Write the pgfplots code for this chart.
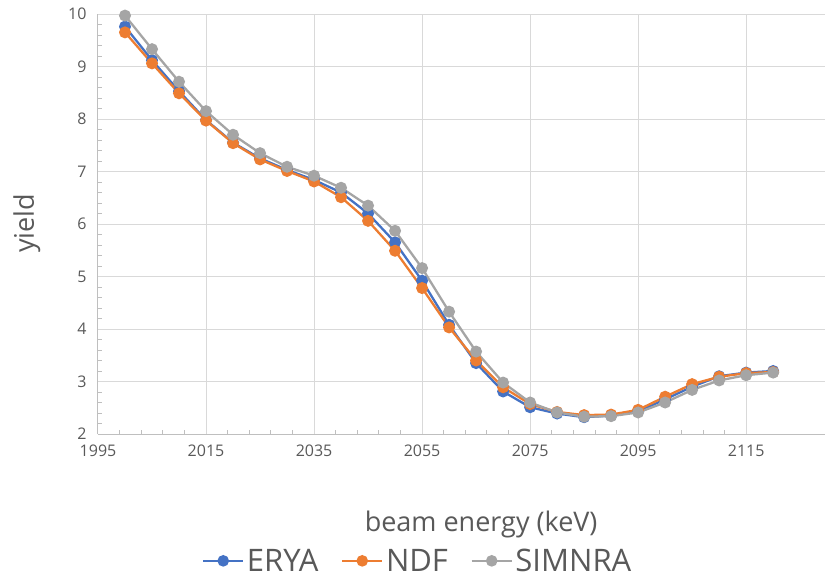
\documentclass[border=0pt]{standalone}
\usepackage{fontspec}
\setmainfont{Open Sans}
\usepackage{pgfplots}
\pgfplotsset{compat=1.18}
\definecolor{erya}{HTML}{4472C4}
\definecolor{ndf}{HTML}{ED7D31}
\definecolor{simnra}{HTML}{A5A5A5}
\definecolor{gridc}{HTML}{D9D9D9}
\definecolor{axisc}{HTML}{BFBFBF}
\definecolor{txt}{HTML}{595959}

\begin{document}
\begin{tikzpicture}
\begin{axis}[
  scale only axis, width=727bp, height=420bp,
  xmin=1995, xmax=2129.6, ymin=2, ymax=10,
  xtick={1995,2015,...,2115}, ytick={2,3,...,10},
  minor x tick num=4, minor y tick num=4,
  axis x line*=bottom, axis y line*=left,
  axis line style={axisc, line width=1bp, -},
  major tick length=0pt, minor tick length=4bp, tick align=inside,
  minor tick style={axisc, line width=0.8bp},
  ymajorgrids, xmajorgrids,
  major grid style={gridc, line width=1bp},
  /pgf/number format/assume math mode=true,
  /pgf/number format/1000 sep={},
  ticklabel style={font=\fontsize{16bp}{18bp}\selectfont, text=txt},
  xticklabel style={yshift=-7bp},
  yticklabel style={xshift=-8bp},
  xlabel={beam energy (keV)}, ylabel={yield},
  xlabel style={at={(axis description cs:0.527,-0.233)}, anchor=base,
    font=\fontsize{27bp}{30bp}\selectfont, text=txt},
  ylabel style={at={(axis description cs:-0.098,0.502)}, anchor=center,
    font=\fontsize{27bp}{30bp}\selectfont, text=txt},
  clip=false,
  every axis plot/.append style={line width=2.3bp, mark=*, mark size=4.8bp},
  legend columns=-1,
  legend style={at={(axis description cs:0.44,-0.302)}, anchor=center,
    draw=none, fill=none, font=\fontsize{31bp}{33bp}\selectfont, text=txt,
    inner sep=0pt, nodes={inner sep=2.5bp},
    /tikz/every even column/.append style={column sep=20bp}},
  legend image code/.code={
    \draw[mark repeat=2, mark phase=2, mark size=4.5bp, line width=2.5bp]
      plot coordinates {(0bp,0bp) (20bp,0bp) (40bp,0bp)};},
]
\addplot[erya, mark options={fill=erya}] coordinates {
(2000,9.76) (2005,9.12) (2010,8.53) (2015,7.98) (2020,7.55) (2025,7.25)
(2030,7.03) (2035,6.84) (2040,6.60) (2045,6.20) (2050,5.65) (2055,4.92)
(2060,4.08) (2065,3.35) (2070,2.81) (2075,2.51) (2080,2.39) (2085,2.32)
(2090,2.35) (2095,2.43) (2100,2.66) (2105,2.90) (2110,3.10) (2115,3.17)
(2120,3.20)};
\addplot[ndf, mark options={fill=ndf}] coordinates {
(2000,9.65) (2005,9.06) (2010,8.49) (2015,7.97) (2020,7.54) (2025,7.23)
(2030,7.01) (2035,6.81) (2040,6.51) (2045,6.06) (2050,5.49) (2055,4.78)
(2060,4.03) (2065,3.40) (2070,2.89) (2075,2.57) (2080,2.42) (2085,2.36)
(2090,2.37) (2095,2.46) (2100,2.71) (2105,2.95) (2110,3.09) (2115,3.16)
(2120,3.18)};
\addplot[simnra, mark options={fill=simnra}] coordinates {
(2000,9.97) (2005,9.33) (2010,8.71) (2015,8.15) (2020,7.70) (2025,7.35)
(2030,7.09) (2035,6.92) (2040,6.69) (2045,6.35) (2050,5.87) (2055,5.16)
(2060,4.33) (2065,3.57) (2070,2.98) (2075,2.60) (2080,2.41) (2085,2.33)
(2090,2.34) (2095,2.41) (2100,2.60) (2105,2.84) (2110,3.02) (2115,3.12)
(2120,3.17)};
\legend{ERYA, NDF, SIMNRA}
\end{axis}
\pgfresetboundingbox
\path[use as bounding box] (-98bp,-145bp) rectangle (727bp,434bp);
\end{tikzpicture}
\end{document}
